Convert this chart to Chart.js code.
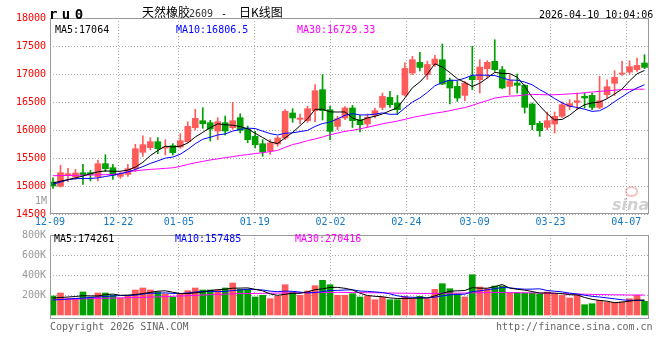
<!DOCTYPE html>
<html>
<head>
<meta charset="utf-8">
<script src="https://cdn.jsdelivr.net/npm/chart.js@4.4.1/dist/chart.umd.min.js"></script>
<style>
  body { margin: 0; background: #fff; }
  #wrap { position: relative; width: 660px; height: 360px; overflow: hidden; font-family: "DejaVu Sans Mono", monospace; font-size: 10px; }
  canvas { position: absolute; left: 0; }
  .t { position: absolute; white-space: nowrap; line-height: 1; }
  .cjk { font-family: "Noto Sans CJK SC", sans-serif; font-size: 12px; }
</style>
</head>
<body>
<div id="wrap">
  <canvas id="kline" width="660" height="232" style="top:0"></canvas>
  <canvas id="vol" width="660" height="104" style="top:225px"></canvas>

  <div class="t" style="left:49px;top:7px;font-weight:bold;font-size:14px;letter-spacing:-2px">r u 0</div>
  <div class="t cjk" style="left:142px;top:6px">天然橡胶</div>
  <div class="t" style="left:189px;top:9px;color:#333">2609</div>
  <div class="t" style="left:221px;top:9px">-</div>
  <div class="t cjk" style="left:239px;top:6px">日K线图</div>
  <div class="t" style="left:539px;top:10px">2026-04-10 10:04:06</div>

  <div class="t" style="left:55px;top:25px;color:#000">MA5:17064</div>
  <div class="t" style="left:176px;top:25px;color:#00f">MA10:16806.5</div>
  <div class="t" style="left:297px;top:25px;color:#f0f">MA30:16729.33</div>
  <div class="t" style="left:35px;top:196px;color:#999">1M</div>
  <div class="t" style="left:625px;top:186px;width:9px;height:7px;border:2px solid rgba(235,120,120,0.45);border-radius:50%"></div>
  <div class="t" style="left:612px;top:195px;font:italic bold 16px 'DejaVu Sans';color:rgba(120,120,120,0.35)">sina</div>

  <div class="t" style="left:54px;top:234px;color:#000">MA5:174261</div>
  <div class="t" style="left:175px;top:234px;color:#00f">MA10:157485</div>
  <div class="t" style="left:295px;top:234px;color:#f0f">MA30:270416</div>

  <div class="t" style="left:50px;top:322px;color:#666">Copyright 2026 SINA.COM</div>
  <div class="t" style="left:496px;top:322px;color:#666">http://finance.sina.com.cn</div>
</div>

<script>
const dates = [
    '12-09', '12-10', '12-11', '12-12', '12-15', '12-16', '12-17', '12-18', '12-19', '12-22',
    '12-23', '12-24', '12-25', '12-26', '12-29', '12-30', '12-31', '01-05', '01-06', '01-07',
    '01-08', '01-09', '01-12', '01-13', '01-14', '01-15', '01-16', '01-19', '01-20', '01-21',
    '01-22', '01-23', '01-26', '01-27', '01-28', '01-29', '01-30', '02-02', '02-03', '02-04',
    '02-05', '02-06', '02-09', '02-10', '02-11', '02-12', '02-13', '02-24', '02-25', '02-26',
    '02-27', '03-02', '03-03', '03-04', '03-05', '03-06', '03-09', '03-10', '03-11', '03-12',
    '03-13', '03-16', '03-17', '03-18', '03-19', '03-20', '03-23', '03-24', '03-25', '03-26',
    '03-27', '03-30', '03-31', '04-01', '04-02', '04-03', '04-07', '04-08', '04-09', '04-10'
];
const tickIdx = [0, 9, 17, 27, 37, 47, 56, 66, 76];

const open = [
    15071, 14994, 15196, 15160, 15238, 15238, 15166, 15398, 15327, 15172,
    15208, 15309, 15601, 15684, 15791, 15678, 15720, 15696, 15791, 16041,
    16166, 16130, 15982, 16130, 16041, 16220, 16011, 15886, 15755, 15630,
    15750, 15857, 16304, 16190, 16166, 16345, 16720, 16363, 16064, 16214,
    16393, 16184, 16107, 16261, 16404, 16582, 16482, 16625, 17018, 17207,
    16990, 17166, 17255, 16890, 16779, 16618, 16958, 16898, 17094, 17226,
    17077, 16779, 16839, 16797, 16464, 16119, 16047, 16107, 16244, 16422,
    16494, 16601, 16618, 16404, 16630, 16833, 16999, 17035, 17077, 17196
];
const high = [
    15148, 15369, 15315, 15297, 15387, 15279, 15464, 15559, 15387, 15255,
    15387, 15744, 15898, 15863, 15863, 15827, 15756, 15934, 16148, 16369,
    16398, 16172, 16220, 16250, 16494, 16291, 16071, 15975, 15827, 15827,
    15886, 16363, 16381, 16286, 16423, 16809, 16988, 16423, 16244, 16417,
    16440, 16262, 16286, 16393, 16660, 16690, 16618, 17200, 17315, 17386,
    17230, 17333, 17535, 16928, 16868, 16868, 17494, 17255, 17237, 17612,
    17136, 16988, 17000, 16809, 16482, 16154, 16321, 16321, 16500, 16541,
    16660, 16660, 16660, 16958, 16898, 17059, 17226, 17237, 17285, 17345
];
const low = [
    14958, 14982, 15077, 15119, 15029, 15089, 15089, 15255, 15119, 15137,
    15172, 15256, 15529, 15648, 15577, 15553, 15553, 15672, 15773, 15999,
    16029, 15803, 15827, 15910, 16011, 15946, 15773, 15679, 15530, 15565,
    15708, 15827, 16137, 16107, 16137, 16150, 16178, 15827, 16005, 16184,
    16045, 15964, 16045, 16214, 16363, 16404, 16274, 16610, 16988, 17057,
    16905, 17136, 16809, 16464, 16511, 16523, 16720, 16660, 16928, 17047,
    16738, 16630, 16660, 16303, 16006, 15886, 16006, 15946, 16226, 16363,
    16363, 16392, 16363, 16380, 16571, 16618, 16976, 16999, 17047, 17095
];
const close = [
    15000, 15238, 15220, 15232, 15202, 15208, 15398, 15309, 15196, 15208,
    15309, 15666, 15738, 15791, 15666, 15696, 15595, 15809, 16065, 16208,
    16113, 16017, 16148, 15982, 16166, 15994, 15827, 15738, 15607, 15768,
    15857, 16333, 16214, 16214, 16380, 16702, 16345, 15975, 16202, 16393,
    16166, 16095, 16225, 16345, 16600, 16452, 16363, 17100, 17255, 17118,
    17170, 17267, 16821, 16750, 16571, 16839, 16898, 17124, 17208, 17077,
    16750, 16880, 16797, 16404, 16095, 15988, 16166, 16244, 16452, 16470,
    16523, 16571, 16404, 16523, 16773, 16940, 17017, 17130, 17154, 17118
];
const ma5 = [
    15053, 15085, 15115, 15145, 15178, 15220, 15252, 15270, 15263, 15264,
    15284, 15338, 15423, 15542, 15634, 15711, 15697, 15711, 15766, 15875,
    15958, 16042, 16110, 16094, 16085, 16061, 16023, 15941, 15866, 15787,
    15759, 15861, 15956, 16077, 16200, 16369, 16371, 16323, 16321, 16323,
    16216, 16166, 16216, 16245, 16286, 16343, 16397, 16572, 16754, 16858,
    17001, 17182, 17126, 17025, 16916, 16850, 16776, 16836, 16928, 17029,
    17011, 17008, 16942, 16782, 16585, 16433, 16290, 16179, 16189, 16264,
    16371, 16452, 16484, 16498, 16559, 16642, 16731, 16877, 17003, 17064
];
const ma10 = [
    15030, 15070, 15110, 15130, 15135, 15135, 15145, 15170, 15190, 15221,
    15252, 15295, 15347, 15403, 15449, 15498, 15517, 15567, 15654, 15754,
    15835, 15870, 15911, 15930, 15980, 16010, 16033, 16026, 15980, 15936,
    15910, 15942, 15949, 15972, 15993, 16064, 16116, 16140, 16199, 16262,
    16292, 16269, 16270, 16283, 16305, 16280, 16282, 16394, 16499, 16572,
    16672, 16789, 16849, 16889, 16886, 16925, 16979, 16981, 16977, 16973,
    16931, 16892, 16889, 16855, 16807, 16722, 16649, 16561, 16485, 16425,
    16402, 16371, 16332, 16344, 16411, 16507, 16592, 16680, 16751, 16807
];
const ma30 = [
    15184, 15186, 15188, 15190, 15193, 15196, 15199, 15202, 15206, 15220,
    15250, 15270, 15285, 15297, 15305, 15315, 15325, 15350, 15385, 15415,
    15440, 15465, 15485, 15505, 15525, 15545, 15560, 15580, 15595, 15615,
    15636, 15690, 15740, 15770, 15810, 15840, 15875, 15915, 15945, 15975,
    15995, 16020, 16050, 16080, 16110, 16135, 16160, 16190, 16225, 16250,
    16275, 16300, 16320, 16345, 16375, 16400, 16440, 16485, 16525, 16570,
    16590, 16605, 16610, 16625, 16636, 16632, 16628, 16630, 16636, 16645,
    16652, 16665, 16678, 16690, 16700, 16712, 16720, 16725, 16728, 16729
];
const volume = [
    190000, 220000, 163000, 163000, 230000, 180000, 220000, 220000, 197000, 170000,
    190000, 250000, 270000, 250000, 230000, 210000, 177000, 210000, 243000, 270000,
    250000, 250000, 250000, 270000, 320000, 257000, 257000, 180000, 197000, 163000,
    190000, 303000, 230000, 197000, 240000, 293000, 347000, 303000, 197000, 197000,
    213000, 180000, 190000, 153000, 177000, 153000, 153000, 187000, 163000, 187000,
    163000, 257000, 313000, 263000, 213000, 180000, 403000, 280000, 263000, 290000,
    290000, 220000, 223000, 220000, 220000, 210000, 230000, 210000, 197000, 170000,
    197000, 103000, 113000, 147000, 130000, 123000, 130000, 163000, 197000, 137000
];
const volMa5 = [
    170000, 175000, 180000, 185000, 193000, 191000, 191000, 203000, 209000, 197000,
    199000, 205000, 215000, 226000, 238000, 242000, 227000, 215000, 214000, 222000,
    230000, 245000, 253000, 258000, 268000, 269000, 271000, 257000, 242000, 211000,
    197000, 207000, 217000, 217000, 232000, 253000, 261000, 276000, 276000, 267000,
    251000, 218000, 195000, 187000, 183000, 171000, 165000, 165000, 167000, 169000,
    171000, 191000, 217000, 237000, 242000, 245000, 274000, 268000, 268000, 283000,
    305000, 269000, 257000, 249000, 235000, 219000, 221000, 218000, 213000, 203000,
    201000, 175000, 156000, 146000, 138000, 123000, 129000, 139000, 149000, 150000
];
const volMa10 = [
    150000, 155000, 160000, 165000, 170000, 175000, 180000, 185000, 190000, 195000,
    195000, 198000, 209000, 218000, 218000, 221000, 216000, 215000, 220000, 230000,
    236000, 236000, 234000, 236000, 245000, 250000, 258000, 255000, 250000, 239000,
    233000, 239000, 237000, 229000, 221000, 225000, 234000, 246000, 246000, 250000,
    252000, 240000, 236000, 231000, 225000, 211000, 192000, 180000, 177000, 176000,
    171000, 178000, 191000, 202000, 205000, 208000, 233000, 242000, 252000, 263000,
    275000, 272000, 263000, 258000, 259000, 262000, 245000, 238000, 231000, 219000,
    210000, 198000, 187000, 180000, 171000, 162000, 152000, 147000, 147000, 144000
];
const volMa30 = [
    153000, 155000, 157000, 159000, 161000, 163000, 165000, 167000, 169000, 171000,
    173000, 175000, 177000, 179000, 181000, 184000, 187000, 190000, 193000, 196000,
    200000, 203000, 206000, 209000, 212000, 214000, 215000, 216000, 217000, 218000,
    219000, 220000, 221000, 222000, 223000, 224000, 225000, 226000, 226000, 226000,
    225000, 224000, 223000, 222000, 221000, 220000, 219000, 218000, 217000, 216000,
    215000, 216000, 217000, 218000, 219000, 220000, 222000, 223000, 224000, 225000,
    225000, 224000, 223000, 222000, 221000, 220000, 218000, 216000, 214000, 212000,
    210000, 208000, 206000, 204000, 203000, 202000, 201000, 200000, 200000, 200000
];
const volTicks = [200000, 400000, 600000, 800000];

const UP = '#ff5b5b';
const DOWN = '#00a000';
const GRID = '#aaaaaa';
const MONO = {family: 'DejaVu Sans Mono', size: 10};

// candle i sits in slot [i, i+1]; the date grid lines are spread over n-1 steps like the original
const slot = i => i + 0.4;
const tickStep = dates.length / (dates.length - 1);
const barColors = dates.map((d, i) => close[i] >= open[i] ? UP : DOWN);

const frame = {
    id: 'frame',
    afterDraw(chart) {
        const a = chart.chartArea;
        const ctx = chart.ctx;
        ctx.save();
        ctx.strokeStyle = '#999';
        ctx.lineWidth = 1;
        ctx.strokeRect(Math.round(a.left) + 0.5, Math.round(a.top) + 0.5,
            Math.round(a.right - a.left) - 1, Math.round(a.bottom - a.top) - 1);
        ctx.restore();
    }
};

function maLine(values, color) {
    return {
        type: 'line',
        data: values.map((v, i) => ({x: slot(i), y: v})),
        borderColor: color,
        borderWidth: 1,
        pointRadius: 0,
        tension: 0,
        order: 0
    };
}

function xScale(showLabels) {
    return {
        type: 'linear',
        min: 0,
        max: dates.length,
        offset: false,
        afterBuildTicks: function (scale) {
            scale.ticks = tickIdx.map(i => ({value: i * tickStep}));
        },
        afterFit: function (scale) {
            scale.height = showLabels ? 18 : 0;
        },
        ticks: {
            display: showLabels,
            autoSkip: false,
            maxRotation: 0,
            padding: 2,
            color: '#1478c8',
            font: MONO,
            callback: (v, k) => dates[tickIdx[k]]
        },
        grid: {color: GRID, drawTicks: false, offset: false},
        border: {display: false, dash: [1, 2]}
    };
}

new Chart(document.getElementById('kline'), {
    type: 'bar',
    data: {
        datasets: [
            maLine(ma5, '#000000'),
            maLine(ma10, '#0000ff'),
            maLine(ma30, '#ff00ff'),
            {
                data: dates.map((d, i) => ({x: slot(i), y: [open[i], close[i]]})),
                backgroundColor: barColors,
                barThickness: 6,
                minBarLength: 1,
                grouped: false,
                order: 1
            },
            {
                data: dates.map((d, i) => ({x: slot(i), y: [low[i], high[i]]})),
                backgroundColor: barColors,
                barThickness: 1,
                grouped: false,
                order: 2
            }
        ]
    },
    options: {
        responsive: false,
        animation: false,
        layout: {padding: {top: 18, right: 11, left: 0, bottom: 0}},
        plugins: {legend: {display: false}, tooltip: {enabled: false}},
        scales: {
            x: xScale(true),
            y: {
                min: 14500,
                max: 18000,
                afterFit: function (scale) {
                    scale.width = 50;
                },
                ticks: {stepSize: 500, padding: 4, color: '#ff0000', font: MONO, callback: v => String(v)},
                grid: {color: GRID, drawTicks: false},
                border: {display: false, dash: [1, 2]}
            }
        }
    },
    plugins: [frame]
});

new Chart(document.getElementById('vol'), {
    type: 'bar',
    data: {
        datasets: [
            maLine(volMa5, '#000000'),
            maLine(volMa10, '#0000ff'),
            maLine(volMa30, '#ff00ff'),
            {
                data: volume.map((v, i) => ({x: slot(i), y: v})),
                backgroundColor: barColors,
                barThickness: 6,
                grouped: false,
                order: 1
            }
        ]
    },
    options: {
        responsive: false,
        animation: false,
        layout: {padding: {top: 10, right: 11, left: 0, bottom: 10}},
        plugins: {legend: {display: false}, tooltip: {enabled: false}},
        scales: {
            x: xScale(false),
            y: {
                min: -40000,
                max: 800000,
                afterBuildTicks: function (scale) {
                    scale.ticks = volTicks.map(v => ({value: v}));
                },
                afterFit: function (scale) {
                    scale.width = 50;
                },
                ticks: {
                    padding: 4,
                    color: '#999999',
                    font: MONO,
                    callback: v => (v / 1000) + 'K'
                },
                grid: {color: GRID, drawTicks: false},
                border: {display: false, dash: [1, 2]}
            }
        }
    },
    plugins: [frame]
});
</script>
</body>
</html>
